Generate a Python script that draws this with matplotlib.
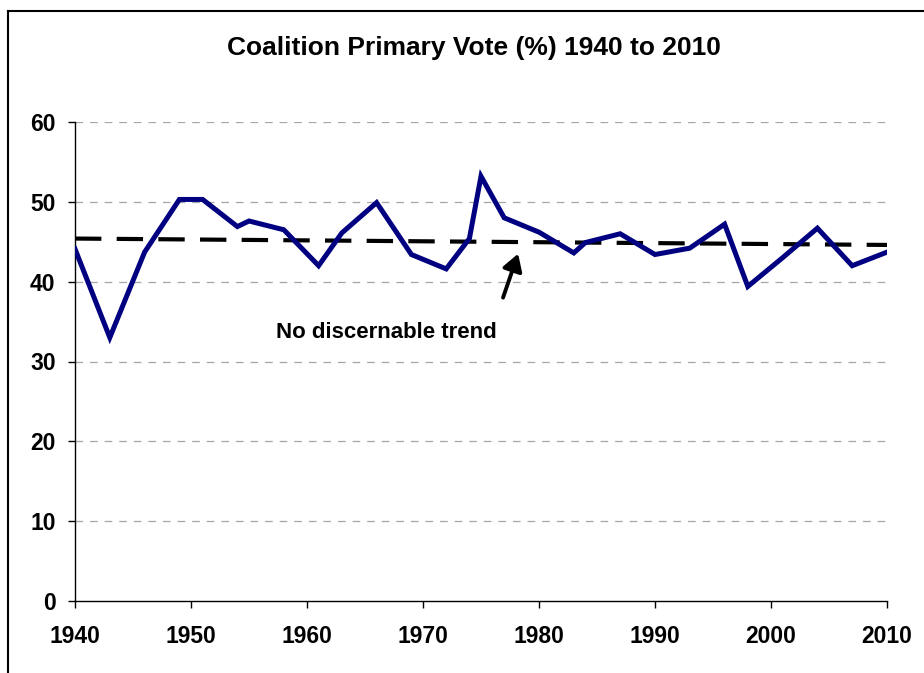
import matplotlib
matplotlib.use("Agg")
import matplotlib.pyplot as plt
from matplotlib.lines import Line2D

plt.rcParams["font.family"] = ["Liberation Sans", "DejaVu Sans"]
plt.rcParams["font.weight"] = "bold"
plt.rcParams["lines.scale_dashes"] = False

# election years and coalition primary vote (%)
years = [1940, 1943, 1946, 1949, 1951, 1954, 1955, 1958, 1961, 1963,
         1966, 1969, 1972, 1974, 1975, 1977, 1980, 1983, 1984, 1987,
         1990, 1993, 1996, 1998, 2001, 2004, 2007, 2010]
vote = [44.1, 33.0, 43.7, 50.3, 50.3, 46.9, 47.6, 46.5, 42.0, 46.1,
        49.9, 43.4, 41.6, 45.4, 53.2, 48.0, 46.2, 43.6, 44.9, 46.0,
        43.4, 44.2, 47.2, 39.4, 43.0, 46.7, 42.0, 43.7]

# linear trend end points
trend_years = [1940, 2010]
trend_vote = [45.4, 44.6]

x_ticks = [1940, 1950, 1960, 1970, 1980, 1990, 2000, 2010]
y_ticks = [0, 10, 20, 30, 40, 50, 60]

fig = plt.figure(figsize=(9.24, 6.73), dpi=100)
ax = fig.add_axes([75 / 924, 1 - 601 / 673, (887 - 75) / 924, (601 - 122) / 673])

# outer chart frame (left and top visible)
fig.add_artist(Line2D([8 / 924, 8 / 924], [1 - 11 / 673, 0.0],
                      transform=fig.transFigure, color="black", lw=1.5))
fig.add_artist(Line2D([8 / 924, 1.0], [1 - 11 / 673, 1 - 11 / 673],
                      transform=fig.transFigure, color="black", lw=1.5))

for y in y_ticks[1:]:
    ax.axhline(y, color="#a6a6a6", lw=0.9, linestyle=(0, (5.5, 5)), zorder=1)

ax.plot(trend_years, trend_vote, color="black", lw=3,
        linestyle=(0, (19, 11)), zorder=2)
ax.plot(years, vote, color="#000080", lw=3.6, solid_joinstyle="miter", zorder=3)

# arrow pointing at the trend line
ax.annotate("", xy=(1978.2, 43.5), xytext=(1976.9, 38.0),
            arrowprops=dict(arrowstyle="-|>,head_length=1.0,head_width=0.6",
                            color="black", lw=2.8, shrinkA=0, shrinkB=0),
            zorder=4)
ax.text(1966.8, 33.6, "No discernable trend", ha="center", va="center",
        fontsize=16, fontweight="bold")

ax.set_xlim(1940, 2010)
ax.set_ylim(0, 60)
ax.set_xticks(x_ticks)
ax.set_yticks(y_ticks)
ax.tick_params(direction="out", length=5, width=1, labelsize=16.5)
for lab in ax.get_xticklabels() + ax.get_yticklabels():
    lab.set_fontweight("bold")
ax.tick_params(axis="x", pad=12)
ax.tick_params(axis="y", pad=9)

ax.spines["top"].set_visible(False)
ax.spines["right"].set_visible(False)
ax.spines["left"].set_linewidth(1)
ax.spines["bottom"].set_linewidth(1)

fig.text(474 / 924, 1 - 48 / 673, "Coalition Primary Vote (%) 1940 to 2010",
         ha="center", va="center", fontsize=19, fontweight="bold")

fig.savefig("out.png", dpi=100)
